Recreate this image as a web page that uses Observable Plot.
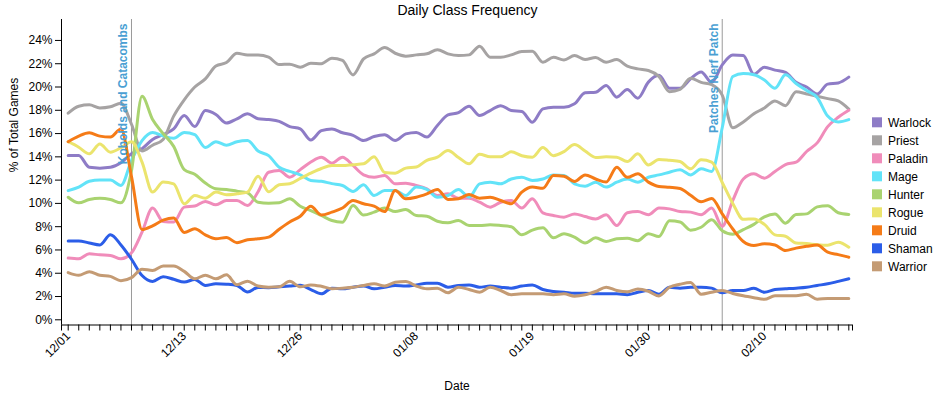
<!DOCTYPE html>
<html>
<head>
<meta charset="utf-8">
<script src="https://cdn.jsdelivr.net/npm/d3@7"></script>
<script src="https://cdn.jsdelivr.net/npm/@observablehq/plot@0.6"></script>
<style>
  html, body { margin: 0; padding: 0; background: #fff; }
  svg { display: block; }
</style>
</head>
<body>
<div id="chart"></div>
<script>
// ---- data ----
const title = "Daily Class Frequency";
const xLabel = "Date";
const yLabel = "% of Total Games";
const classes = ["Warlock", "Priest", "Paladin", "Mage", "Hunter", "Rogue", "Druid", "Shaman", "Warrior"];
const colors  = ["#8e7cc6", "#a6a3a3", "#f08cba", "#62e3f8", "#a9d370", "#ebe46d", "#f57b17", "#2b5de8", "#c49b74"];

// one value per day (75 days), % of total games
const warlock = [14.12,14.12,13.1,13.03,13.1,13.49,14.26,14.7,15.5,15.9,16.4,17.55,16.6,17.98,17.64,16.9,17.27,17.7,17.27,17.2,
  17.05,16.6,16.4,15.45,16.25,16.4,16.07,15.85,15.4,15.75,15.9,15.4,15.97,16.1,15.7,16.7,17.6,17.8,18.35,17.55,
  17.98,18.4,17.98,17.9,16.98,18.12,18.27,18.27,18.56,19.5,19.55,20.13,19.13,19.78,19.04,20.42,21.0,19.9,19.9,20.7,
  21.3,20.4,21.9,22.75,22.7,21.1,21.7,21.45,21.25,20.4,20.0,19.4,20.25,20.35,20.85];
const priest = [17.75,18.35,18.47,18.2,18.3,18.6,16.8,14.5,15.0,15.5,17.5,18.9,20.0,20.7,21.8,22.1,22.9,22.75,22.75,22.56,
  21.93,21.96,21.7,22.05,22.0,22.48,22.28,21.04,22.42,22.85,23.4,22.9,22.65,22.76,22.85,23.2,22.85,22.7,22.76,23.5,
  22.56,22.56,22.76,23.05,23.08,22.13,22.56,22.33,22.7,22.36,22.53,22.13,22.36,21.8,21.56,21.42,20.9,19.6,19.8,20.75,
  20.4,20.2,19.3,16.5,17.0,17.7,18.2,18.8,18.4,19.6,19.4,19.2,19.0,18.8,18.1];
const paladin = [5.3,5.24,5.67,5.58,5.53,5.24,5.75,7.53,9.6,8.45,8.4,9.68,9.77,10.17,9.88,10.25,10.25,9.82,11.0,12.68,
  12.83,12.25,12.9,13.55,13.97,13.46,13.97,13.26,12.46,12.25,12.4,11.68,11.74,11.54,11.25,10.68,10.82,10.45,10.45,10.1,
  9.68,10.1,10.25,9.6,10.4,9.19,8.96,8.82,9.1,8.87,8.67,9.02,8.1,9.19,9.3,9.02,9.6,9.53,9.3,9.25,
  9.02,9.6,8.04,10.25,12.1,12.54,12.17,12.74,13.34,13.54,14.46,15.2,16.6,17.4,18.0];
const mage = [11.1,11.4,11.9,12.0,12.0,11.54,13.7,15.4,16.1,15.8,15.6,16.1,15.9,14.8,15.3,15.0,15.3,15.4,14.5,14.1,
  13.1,12.75,12.46,11.97,11.9,11.7,11.54,11.03,11.6,10.68,11.1,11.1,10.68,11.4,11.2,10.53,10.68,11.2,10.53,11.68,
  11.82,11.68,12.1,12.25,11.97,12.1,12.45,12.4,11.68,11.48,11.82,11.4,11.82,12.1,11.82,12.25,12.45,12.68,12.9,12.45,
  12.97,12.74,16.5,20.9,21.15,21.05,20.6,19.9,21.05,20.3,19.7,19.1,17.5,17.0,17.2];
const hunter = [10.53,10.05,10.34,10.45,10.34,10.05,12.8,19.2,17.2,16.0,14.9,12.9,12.5,11.75,11.25,11.2,11.05,10.9,10.1,10.02,
  10.05,10.4,9.76,9.38,8.96,8.53,8.39,9.82,9.0,9.25,9.6,9.3,9.47,8.96,8.9,8.47,8.33,8.53,8.1,8.1,
  8.16,8.1,8.0,7.3,7.7,7.9,7.04,7.4,7.1,6.6,7.04,6.73,6.96,7.0,6.8,7.4,7.15,8.5,8.4,7.7,
  7.95,8.6,7.65,7.35,7.75,8.2,8.85,9.1,8.3,9.05,9.1,9.7,9.8,9.2,9.05];
const rogue = [15.3,14.83,14.26,15.1,14.4,14.78,15.3,13.55,10.97,11.83,11.68,9.96,10.68,10.45,10.97,10.74,10.82,10.97,12.34,11.0,
  11.6,11.68,12.15,12.6,13.0,13.26,13.25,13.33,13.4,14.0,12.65,12.6,13.03,13.13,13.7,13.97,14.55,13.95,13.4,14.23,
  14.0,14.0,14.43,14.1,13.97,14.8,14.1,14.45,15.05,14.5,13.95,14.0,13.97,13.6,14.26,13.3,13.77,13.7,13.6,12.97,
  13.74,13.54,11.8,10.0,8.63,8.67,8.2,7.3,7.18,6.6,6.55,6.45,6.4,6.67,6.24];
const druid = [15.3,15.78,16.06,15.78,15.7,16.4,12.3,7.75,8.07,8.56,8.75,7.5,7.83,7.3,6.96,7.07,6.62,6.88,6.96,7.1,
  7.78,8.4,8.9,9.75,9.0,9.25,9.6,10.25,9.97,9.77,9.3,11.1,10.4,10.53,10.82,11.2,10.34,10.4,10.77,10.45,
  10.53,10.25,9.97,10.97,11.4,11.3,12.4,12.34,11.88,12.45,12.1,11.83,13.1,12.25,12.54,11.83,11.45,11.38,11.28,10.7,
  10.14,10.43,9.1,7.8,6.73,6.38,6.53,6.42,5.95,6.16,6.31,6.42,5.81,5.6,5.38];
const shaman = [6.78,6.78,6.6,6.43,7.3,6.43,5.2,3.8,3.3,3.7,3.48,3.24,3.47,2.95,3.1,3.06,2.95,2.38,2.78,2.76,
  2.83,2.9,2.96,2.6,2.23,2.72,2.66,2.8,2.9,2.66,2.8,2.95,2.9,3.0,3.15,3.15,2.8,2.95,3.0,2.8,
  2.9,2.8,2.72,2.9,3.0,2.6,2.43,2.37,2.29,2.29,2.23,2.23,2.23,2.15,2.37,2.52,2.2,2.8,2.72,2.8,
  2.8,2.72,2.32,2.52,2.52,2.72,2.37,2.6,2.66,2.72,2.8,2.95,3.09,3.3,3.52];
const warrior = [4.06,3.83,4.13,3.83,3.73,3.35,3.62,4.35,4.24,4.63,4.62,4.16,3.52,3.83,3.52,3.86,3.02,3.31,2.9,2.8,
  2.83,3.31,2.83,3.0,2.88,2.66,2.72,2.8,2.95,3.09,2.9,3.23,3.3,2.9,2.66,2.72,2.32,2.8,2.6,2.37,
  2.8,2.52,2.15,2.23,2.23,2.23,2.15,2.23,2.03,2.15,2.43,2.8,2.52,2.4,2.65,2.45,2.05,2.8,3.05,3.2,
  2.2,2.37,2.52,2.26,2.06,1.9,1.76,2.06,2.06,2.06,2.19,1.77,1.83,1.83,1.83];
const seriesValues = [warlock, priest, paladin, mage, hunter, rogue, druid, shaman, warrior];

// x tick labels (day index of each labelled day)
const tickLabelIndex = [0, 11, 22, 33, 44, 55, 66];
const tickLabels = ["12/01", "12/13", "12/26", "01/08", "01/19", "01/30", "02/10"];
const yTicks = [0, 2, 4, 6, 8, 10, 12, 14, 16, 18, 20, 22, 24];

// annotated events (day index)
const eventIndex = [6, 62];
const eventLabels = ["Kobolds and Catacombs", "Patches Nerf Patch"];

// ---- build ----
const rows = [];
classes.forEach((c, k) => seriesValues[k].forEach((v, i) => rows.push({cls: c, i, v})));
const events = eventIndex.map((i, k) => ({i, label: eventLabels[k]}));
const labelMap = new Map(tickLabelIndex.map((i, k) => [i, tickLabels[k]]));
const nDays = warlock.length;

const xDomain = [-0.635, nDays - 1 + 0.35];
const yDomain = [-0.447, 25.8];
const font = "'Liberation Sans', Arial, Helvetica, sans-serif";

const chart = Plot.plot({
  width: 950,
  height: 398,
  marginLeft: 61,
  marginRight: 98,
  marginTop: 19,
  marginBottom: 73.5,
  style: {fontFamily: font, fontSize: "12px", color: "#000", background: "#fff", overflow: "visible"},
  x: {type: "linear", domain: xDomain, axis: null},
  y: {type: "linear", domain: yDomain, axis: null},
  color: {domain: classes, range: colors},
  marks: [
    Plot.ruleX(events, {x: "i", stroke: "#9a9a9a", strokeWidth: 1}),
    Plot.lineY(rows, {x: "i", y: "v", z: "cls", stroke: "cls", strokeWidth: 3, curve: "monotone-x"}),
    Plot.text(events, {x: "i", frameAnchor: "top", text: "label", rotate: -90, textAnchor: "end",
      lineAnchor: "bottom", dx: -4, dy: 4, fill: "#4a9fd3", fontWeight: "bold", fontSize: 12}),
    Plot.ruleX([xDomain[0]], {stroke: "#000", strokeWidth: 1}),
    Plot.ruleY([yDomain[0]], {stroke: "#000", strokeWidth: 1}),
    Plot.axisY({ticks: yTicks, tickFormat: d => d + "%", tickSize: 6, tickPadding: 3, label: null, fontSize: 12}),
    Plot.axisX({ticks: d3.range(0, nDays).concat(xDomain), tickFormat: i => labelMap.get(i) ?? "",
      tickRotate: -45, tickSize: 6, tickPadding: 3, label: null, fontSize: 12}),
    Plot.text([title], {frameAnchor: "top", dx: 10.5, dy: -5, lineAnchor: "bottom", fontSize: 14, fill: "#000"}),
    Plot.text([xLabel], {frameAnchor: "bottom", dy: 64.5, lineAnchor: "bottom", fontSize: 12, fill: "#000"}),
    Plot.text([yLabel], {frameAnchor: "left", dx: -47, rotate: -90, lineAnchor: "middle", fontSize: 12, fill: "#000"})
  ]
});

// legend
const svg = d3.select(chart);
const lg = svg.append("g").attr("font-family", font).attr("font-size", 12).attr("text-anchor", "start");
classes.forEach((c, k) => {
  lg.append("rect").attr("x", 872).attr("y", 117.3 + 18 * k).attr("width", 10).attr("height", 10).attr("fill", colors[k]);
  lg.append("text").attr("x", 888).attr("y", 126.5 + 18 * k).attr("fill", "#000").attr("text-anchor", "start").text(c);
});

document.getElementById("chart").appendChild(chart);
</script>
</body>
</html>
